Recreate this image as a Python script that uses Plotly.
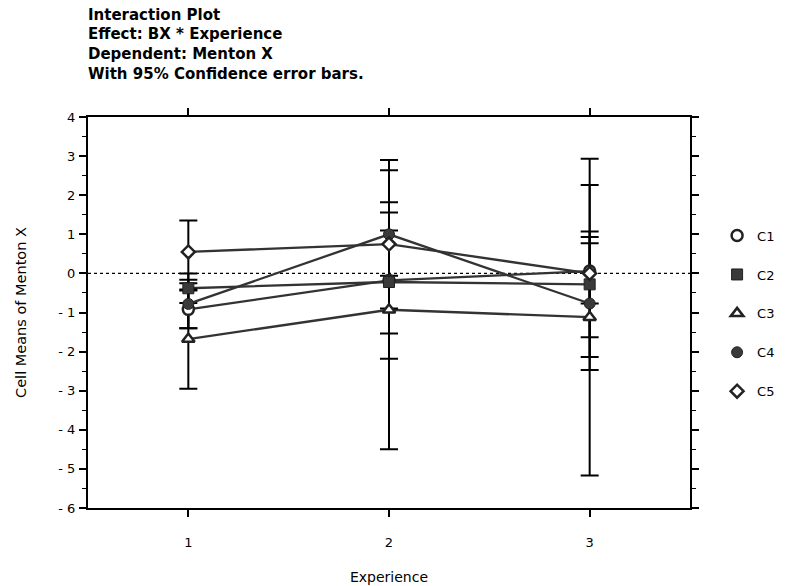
import plotly.graph_objects as go

experience = [1, 2, 3]
series_names = ["C1", "C2", "C3", "C4", "C5"]
means = {
    "C1": [-0.92, -0.18, 0.06],
    "C2": [-0.38, -0.22, -0.28],
    "C3": [-1.68, -0.93, -1.12],
    "C4": [-0.78, 1.0, -0.77],
    "C5": [0.55, 0.75, 0.0],
}
ci_half = {
    "C1": [0.48, 2.0, 2.2],
    "C2": [0.38, 1.32, 1.35],
    "C3": [1.27, 3.57, 4.05],
    "C4": [0.62, 1.9, 1.7],
    "C5": [0.8, 0.81, 0.77],
}
symbols = {"C1": "circle-open", "C2": "square", "C3": "triangle-up-open",
           "C4": "circle", "C5": "diamond-open"}
y_ticks = [4, 3, 2, 1, 0, -1, -2, -3, -4, -5, -6]
y_ticktext = ["4", "3", "2", "1", "0", "- 1", "- 2", "- 3", "- 4", "- 5", "- 6"]
title_lines = ["Interaction Plot", "Effect: BX * Experience", "Dependent: Menton X",
               "With 95% Confidence error bars."]

FONT = "DejaVu Sans, Liberation Sans, Arial, sans-serif"
W, H = 797, 586
ML, MR, MT, MB = 88, 107, 117, 78
PH = H - MT - MB
fig = go.Figure()

# lines + error bars
for name in series_names:
    fig.add_trace(go.Scatter(
        x=experience, y=means[name], mode="lines", showlegend=False,
        line=dict(color="#333333", width=2.3),
        error_y=dict(type="data", array=ci_half[name], visible=True,
                     color="black", thickness=2, width=9),
        hoverinfo="skip"))


def marker_for(name):
    sym = symbols[name]
    filled = not sym.endswith("open")
    return dict(symbol=sym.replace("-open", ""), size=11 if name != "C5" else 10,
                color="#3a3a3a" if filled else "white",
                line=dict(color="#222222", width=2.5 if not filled else 1))


# markers
for name in series_names:
    fig.add_trace(go.Scatter(x=experience, y=means[name], mode="markers",
                             showlegend=False, marker=marker_for(name)))

# legend entries
for name in series_names:
    fig.add_trace(go.Scatter(x=[None], y=[None], mode="markers", name=name,
                             legendgroup=name, marker=marker_for(name)))

fig.add_shape(type="line", xref="paper", x0=0, x1=1, yref="y", y0=0, y1=0,
              line=dict(color="black", width=1.2, dash="dot"), layer="below")

# title lines
for i, txt in enumerate(title_lines):
    ypix = 15 + 19.5 * i
    fig.add_annotation(text="<b>" + txt + "</b>", xref="paper", yref="paper",
                       x=-0.004, xanchor="left",
                       y=1 + (MT - ypix) / PH, yanchor="middle", showarrow=False,
                       font=dict(size=15, family=FONT, color="black"))

fig.update_layout(
    width=W, height=H,
    margin=dict(l=ML, r=MR, t=MT, b=MB, autoexpand=False),
    paper_bgcolor="white", plot_bgcolor="white",
    font=dict(family=FONT, color="black", size=12),
    showlegend=True,
    legend=dict(x=1.045, y=0.735, xanchor="left", yanchor="top",
                tracegroupgap=19, font=dict(size=13, family=FONT),
                bgcolor="rgba(0,0,0,0)", itemwidth=30),
    xaxis=dict(range=[0.5, 3.5], tickvals=experience, ticktext=["1", "2", "3"],
               showline=True, linecolor="black", linewidth=2, mirror="ticks",
               ticks="outside", ticklen=7, tickwidth=1.5, tickcolor="black",
               showgrid=False, zeroline=False, automargin=False,
               ticklabelstandoff=14,
               title=dict(text="Experience", font=dict(size=14), standoff=24),
               tickfont=dict(size=13)),
    yaxis=dict(range=[-6, 4], tickvals=y_ticks, ticktext=y_ticktext,
               showline=True, linecolor="black", linewidth=2, mirror="ticks",
               ticks="outside", ticklen=7, tickwidth=1.5, tickcolor="black",
               minor=dict(ticks="outside", dtick=0.5, ticklen=4, tickcolor="black",
                          tickwidth=1.2, showgrid=False),
               showgrid=False, zeroline=False, automargin=False,
               ticklabelstandoff=1,
               title=dict(text="Cell Means of Menton X", font=dict(size=14.5), standoff=28),
               tickfont=dict(size=13)),
)

fig.write_html("out.html", post_script="document.body.style.margin='0';",
               config={"displayModeBar": False})
